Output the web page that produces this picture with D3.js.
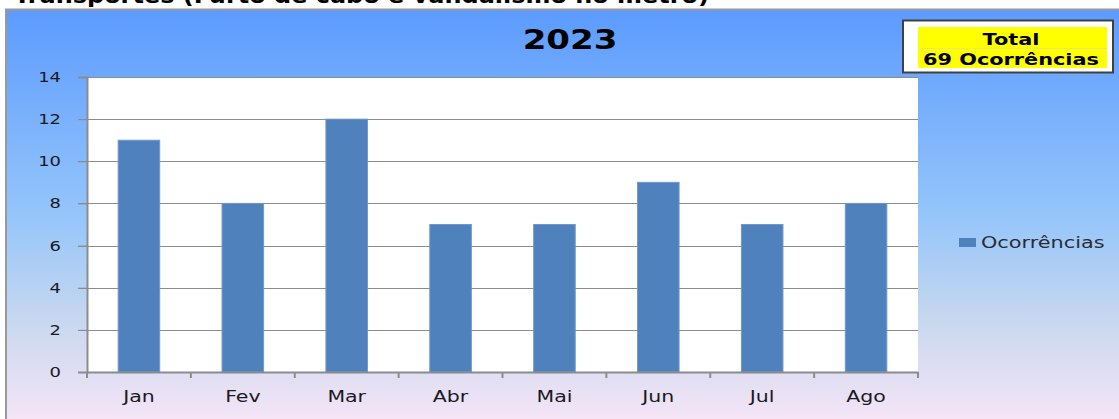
<!DOCTYPE html>
<html>
<head>
<meta charset="utf-8">
<script src="https://cdn.jsdelivr.net/npm/d3@7"></script>
<style>
  body { margin: 0; background: #fff; overflow: hidden; }
  svg { display: block; }
</style>
</head>
<body>
<svg id="chart"></svg>
<script>
// dados
const meses = ["Jan", "Fev", "Mar", "Abr", "Mai", "Jun", "Jul", "Ago"];
const ocorrencias = [11, 8, 12, 7, 7, 9, 7, 8];
const yTicks = [0, 2, 4, 6, 8, 10, 12, 14];
const titulo = "2023";
const serieNome = "Ocorrências";
const caixaTotal = ["Total", "69 Ocorrências"];
const cabecalho = "Transportes (Furto de cabo e vandalismo no metrô)";

const W = 1119, H = 419;
const svg = d3.select("#chart").attr("width", W).attr("height", H);

// a imagem original está esticada na horizontal
function esticar(sel, k) {
  sel.each(function () {
    const len = this.getComputedTextLength();
    d3.select(this).attr("textLength", len * k).attr("lengthAdjust", "spacingAndGlyphs");
  });
}

const defs = svg.append("defs");
const grad = defs.append("linearGradient")
  .attr("id", "bg").attr("x1", 0).attr("y1", 0).attr("x2", 0).attr("y2", 1);
grad.append("stop").attr("offset", "0%").attr("stop-color", "#5c9bfe");
grad.append("stop").attr("offset", "50%").attr("stop-color", "#96c6fa");
grad.append("stop").attr("offset", "75%").attr("stop-color", "#c9d8ef");
grad.append("stop").attr("offset", "100%").attr("stop-color", "#f9e6f7");

// texto do cabeçalho cortado no topo
svg.append("text")
  .attr("x", 14).attr("y", 3)
  .attr("textLength", 695).attr("lengthAdjust", "spacingAndGlyphs")
  .style("font-family", "DejaVu Sans, Verdana, sans-serif")
  .style("font-weight", "bold")
  .style("font-size", "22px")
  .style("fill", "#000")
  .text(cabecalho);

// área do gráfico
svg.append("rect")
  .attr("x", 6).attr("y", 9.5).attr("width", W + 10).attr("height", H)
  .attr("fill", "url(#bg)")
  .attr("stroke", "#9a9a9a").attr("stroke-width", 2);

const m = { left: 87, top: 77, right: 918, bottom: 372 };

const x = d3.scaleBand().domain(meses).range([m.left, m.right]).paddingInner(0.6).paddingOuter(0.3);
const xb = d3.scaleBand().domain(meses).range([m.left, m.right]);
const y = d3.scaleLinear().domain([0, 14]).range([m.bottom, m.top]);

// fundo branco do plot
svg.append("rect")
  .attr("x", m.left).attr("y", m.top)
  .attr("width", m.right - m.left).attr("height", m.bottom - m.top)
  .attr("fill", "#fff");

// linhas de grade
svg.append("g").selectAll("line")
  .data(yTicks.filter(d => d > 0))
  .join("line")
    .attr("x1", m.left - 9).attr("x2", m.right)
    .attr("y1", d => Math.round(y(d)) + 0.5).attr("y2", d => Math.round(y(d)) + 0.5)
    .attr("stroke", "#8c8c8c").attr("stroke-width", 1);

// barras
svg.append("g").selectAll("rect")
  .data(ocorrencias)
  .join("rect")
    .attr("x", (d, i) => x(meses[i]))
    .attr("y", d => y(d))
    .attr("width", x.bandwidth())
    .attr("height", d => y(0) - y(d))
    .attr("fill", "#4f81bd")
    .attr("stroke", "#6f98cc").attr("stroke-width", 1);

// eixo y
const yAxis = svg.append("g")
  .attr("transform", `translate(${m.left},0)`)
  .call(d3.axisLeft(y).tickValues(yTicks).tickSize(9).tickPadding(17));
yAxis.select(".domain").attr("stroke", "#8c8c8c").attr("stroke-width", 2);
yAxis.selectAll(".tick line").attr("stroke", "#8c8c8c");
yAxis.selectAll("text")
  .style("font-family", "DejaVu Sans, Verdana, sans-serif")
  .style("font-size", "14px")
  .style("fill", "#1a1a24")
  .call(esticar, 1.28);

// eixo x
const xAxis = svg.append("g")
  .attr("transform", `translate(0,${m.bottom})`)
  .call(d3.axisBottom(xb).tickSize(0).tickPadding(19));
xAxis.select(".domain").attr("stroke", "#8c8c8c").attr("stroke-width", 2);
xAxis.selectAll("text")
  .style("font-family", "DejaVu Sans, Verdana, sans-serif")
  .style("font-size", "16px")
  .style("fill", "#1a1a24")
  .call(esticar, 1.28);
// marcas entre categorias
xAxis.selectAll(".sep")
  .data(meses.map(d => xb(d)).concat([m.right]))
  .join("line")
    .attr("class", "sep")
    .attr("x1", d => d).attr("x2", d => d)
    .attr("y1", 0).attr("y2", 6)
    .attr("stroke", "#8c8c8c").attr("stroke-width", 2);

// título
svg.append("text")
  .attr("x", 570).attr("y", 49)
  .attr("text-anchor", "middle")
  .style("font-family", "DejaVu Sans, Verdana, sans-serif")
  .style("font-weight", "bold")
  .style("font-size", "27px")
  .style("fill", "#000")
  .text(titulo)
  .call(esticar, 1.26);

// legenda
svg.append("rect")
  .attr("x", 959).attr("y", 238).attr("width", 17).attr("height", 9)
  .attr("fill", "#4f81bd");
svg.append("text")
  .attr("x", 981).attr("y", 248)
  .style("font-family", "DejaVu Sans, Verdana, sans-serif")
  .style("font-size", "16px")
  .style("fill", "#2a2a33")
  .text(serieNome)
  .call(esticar, 1.3);

// caixa do total
svg.append("rect")
  .attr("x", 903).attr("y", 20.5).attr("width", 210).attr("height", 52)
  .attr("fill", "#fff").attr("stroke", "#404040").attr("stroke-width", 2);
svg.append("rect")
  .attr("x", 918).attr("y", 27).attr("width", 189).attr("height", 41)
  .attr("fill", "#ffff00");
svg.append("line")
  .attr("x1", 918).attr("x2", 1107).attr("y1", 48.5).attr("y2", 48.5)
  .attr("stroke", "#e8e870").attr("stroke-width", 1);
svg.append("g").selectAll("text")
  .data(caixaTotal)
  .join("text")
    .attr("x", 1011).attr("y", (d, i) => 45 + i * 20)
    .attr("text-anchor", "middle")
    .style("font-family", "DejaVu Sans, Verdana, sans-serif")
    .style("font-weight", "bold")
    .style("font-size", "16px")
    .style("fill", "#000")
    .text(d => d)
    .call(esticar, 1.3);
</script>
</body>
</html>
